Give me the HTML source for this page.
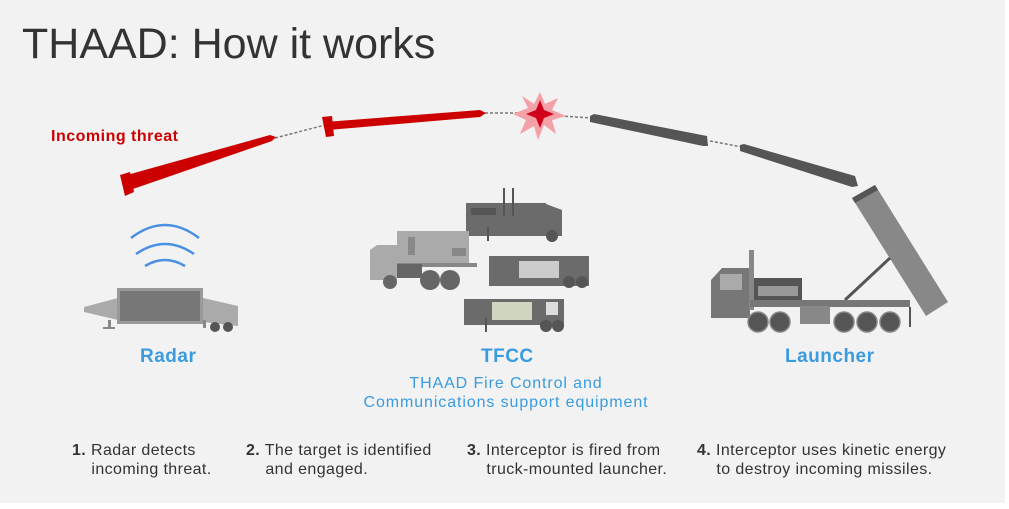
<!DOCTYPE html>
<html><head><meta charset="utf-8"><style>
body{margin:0;background:#fff;}
.wrap{position:relative;width:1005px;height:503px;background:#f2f2f2;overflow:hidden;font-family:"Liberation Sans",sans-serif;}
.t{position:absolute;white-space:nowrap;}
.d{font-size:16px;line-height:19px;color:#333;letter-spacing:0.4px;}
</style></head><body><div class="wrap">
<div class="t" style="left:22px;top:20px;font-size:43px;color:#333;">THAAD: How it works</div>
<div class="t" style="left:51px;top:128px;font-size:16px;font-weight:bold;color:#c00;letter-spacing:0.5px;">Incoming threat</div>
<svg width="1005" height="503" style="position:absolute;left:0;top:0">
<g stroke="#777" stroke-width="1.5" stroke-dasharray="3,2" fill="none">
<path d="M275 138 L325 125"/><path d="M485 113 L530 113"/><path d="M560 116 L592 118"/><path d="M710 141 L742 147"/>
</g>
<g fill="#c00">
<polygon points="122,180 127,175 270,135 276,137 272,141 130,190 125,192"/>
<polygon points="120,175 130,172 134,192 125,196"/>
<polygon points="325,122 480,110 486,113 480,117 328,130"/>
<polygon points="322,117 332,116 334,136 326,137"/>
</g>
<polygon points="540,92 545,104 558,98 552,110 566,116 552,120 556,134 544,125 538,140 534,126 520,134 526,120 513,114 528,108 522,96 534,104" fill="#f3a0a6"/>
<polygon points="540,100 544,110 554,114 544,118 540,128 536,118 526,114 536,110" fill="#d0001a"/>
<g fill="#555">
<polygon points="590,116 594,114 707,136 708,146 703,146 590,122"/>
<polygon points="740,145 744,144 855,176 858,186 852,187 740,151"/>
</g>
<g stroke="#4a90e2" stroke-width="2.5" fill="none">
<path d="M131 238 Q165 212 199 238"/><path d="M136 254 Q165 234 194 254"/><path d="M145 266 Q165 254 185 266"/>
</g>
<polygon points="84,312 84,307 118,298 118,320" fill="#aaa"/>
<polygon points="203,298 238,306 238,326 203,322" fill="#aaa"/>
<rect x="117" y="288" width="86" height="36" fill="#999"/>
<rect x="120" y="291" width="80" height="30" fill="#777"/>
<rect x="108" y="320" width="3" height="8" fill="#888"/><rect x="103" y="327" width="12" height="2" fill="#888"/>
<rect x="203" y="320" width="3" height="8" fill="#888"/>
<circle cx="215" cy="327" r="5" fill="#555"/><circle cx="228" cy="327" r="5" fill="#555"/>
<rect x="466" y="203" width="80" height="33" fill="#6b6b6b"/><polygon points="546,204 562,210 562,236 546,236" fill="#6b6b6b"/>
<rect x="471" y="208" width="25" height="7" fill="#555"/>
<rect x="503" y="188" width="2" height="28" fill="#555"/><rect x="512" y="188" width="2" height="28" fill="#555"/>
<circle cx="552" cy="236" r="6" fill="#555"/><rect x="487" y="227" width="2" height="14" fill="#555"/>
<rect x="397" y="231" width="72" height="32" fill="#aaa"/>
<polygon points="370,250 377,245 397,245 397,280 370,280" fill="#aaa"/>
<rect x="397" y="263" width="80" height="4" fill="#888"/><rect x="397" y="264" width="25" height="14" fill="#666"/>
<rect x="408" y="237" width="7" height="18" fill="#888"/><rect x="452" y="248" width="14" height="8" fill="#888"/>
<circle cx="390" cy="282" r="7" fill="#666"/><circle cx="430" cy="280" r="10" fill="#666"/><circle cx="450" cy="280" r="10" fill="#666"/>
<rect x="489" y="256" width="100" height="30" fill="#6b6b6b"/>
<rect x="519" y="261" width="40" height="17" fill="#ccc"/>
<circle cx="569" cy="282" r="6" fill="#555"/><circle cx="582" cy="282" r="6" fill="#555"/>
<rect x="464" y="299" width="100" height="26" fill="#6b6b6b"/>
<rect x="492" y="302" width="40" height="18" fill="#cfd6bf"/><rect x="546" y="302" width="12" height="13" fill="#ddd"/>
<circle cx="546" cy="326" r="6" fill="#555"/><circle cx="558" cy="326" r="6" fill="#555"/>
<rect x="485" y="318" width="2" height="14" fill="#555"/>
<polygon points="852,198 875,185 948,302 926,316" fill="#888"/>
<polygon points="852,198 875,185 878,190 855,203" fill="#555"/>
<line x1="845" y1="300" x2="890" y2="258" stroke="#555" stroke-width="3"/>
<polygon points="711,280 722,268 750,268 750,318 711,318" fill="#777"/>
<rect x="720" y="274" width="22" height="16" fill="#aaa"/>
<rect x="749" y="250" width="5" height="60" fill="#888"/>
<rect x="754" y="278" width="48" height="24" fill="#555"/><rect x="758" y="286" width="40" height="10" fill="#999"/>
<rect x="750" y="300" width="160" height="7" fill="#777"/>
<rect x="800" y="306" width="30" height="18" fill="#888"/>
<g fill="#555" stroke="#888" stroke-width="1.5">
<circle cx="758" cy="322" r="10"/><circle cx="780" cy="322" r="10"/><circle cx="844" cy="322" r="10"/><circle cx="867" cy="322" r="10"/><circle cx="890" cy="322" r="10"/>
</g>
<rect x="909" y="307" width="2" height="20" fill="#555"/>
</svg>
<div class="t" style="left:140px;top:346px;font-size:19px;font-weight:bold;color:#3a9be0;letter-spacing:0.5px;">Radar</div>
<div class="t" style="left:481px;top:346px;font-size:19px;font-weight:bold;color:#3a9be0;letter-spacing:0.5px;">TFCC</div>
<div class="t" style="left:785px;top:346px;font-size:19px;font-weight:bold;color:#3a9be0;letter-spacing:0.5px;">Launcher</div>
<div class="t" style="left:356px;top:374px;width:300px;text-align:center;font-size:16px;line-height:19px;color:#3a9be0;letter-spacing:0.9px;">THAAD Fire Control and<br>Communications support equipment</div>
<div class="t d" style="left:72px;top:441px;"><b>1.</b> Radar detects<br>&nbsp;&nbsp;&nbsp;&nbsp;incoming threat.</div>
<div class="t d" style="left:246px;top:441px;"><b>2.</b> The target is identified<br>&nbsp;&nbsp;&nbsp;&nbsp;and engaged.</div>
<div class="t d" style="left:467px;top:441px;"><b>3.</b> Interceptor is fired from<br>&nbsp;&nbsp;&nbsp;&nbsp;truck-mounted launcher.</div>
<div class="t d" style="left:697px;top:441px;"><b>4.</b> Interceptor uses kinetic energy<br>&nbsp;&nbsp;&nbsp;&nbsp;to destroy incoming missiles.</div>
</div></body></html>
